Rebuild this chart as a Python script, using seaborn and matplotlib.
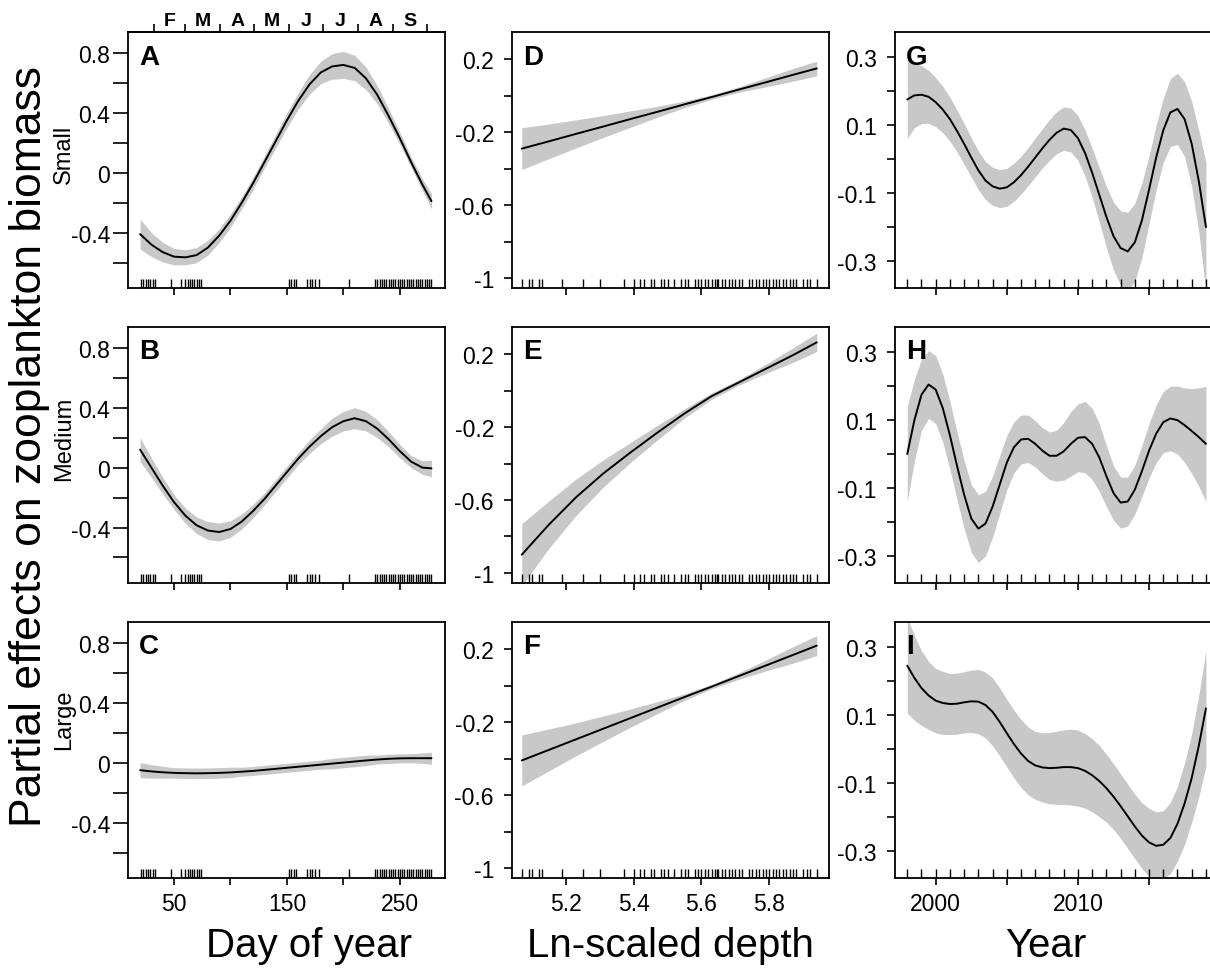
import numpy as np
import seaborn as sns
import matplotlib.pyplot as plt

sns.set_style('ticks')
plt.rcParams['font.family'] = ['Liberation Sans', 'DejaVu Sans']
plt.rcParams['axes.unicode_minus'] = False
plt.rcParams.update({'text.color': 'black', 'axes.edgecolor': 'black', 'xtick.color': 'black',
                     'ytick.color': 'black', 'axes.labelcolor': 'black'})

# ---- day of year (column 1) ----
doy = [20, 30, 40, 50, 60, 70, 80, 90, 100, 110, 120, 130, 140, 150, 160, 170, 180,
       190, 200, 210, 220, 230, 240, 250, 260, 270, 278]
fit_A = [-0.41, -0.48, -0.53, -0.56, -0.565, -0.55, -0.50, -0.42, -0.32, -0.20, -0.07, 0.07, 0.21,
         0.35, 0.48, 0.59, 0.67, 0.71, 0.72, 0.70, 0.63, 0.52, 0.38, 0.23, 0.07, -0.08, -0.19]
se_A = [0.10, 0.08, 0.065, 0.055, 0.05, 0.05, 0.05, 0.045, 0.045, 0.04, 0.04, 0.04, 0.045, 0.05,
        0.055, 0.065, 0.075, 0.085, 0.09, 0.085, 0.075, 0.06, 0.05, 0.04, 0.035, 0.04, 0.05]
fit_B = [0.12, 0.0, -0.12, -0.23, -0.32, -0.385, -0.42, -0.43, -0.41, -0.36, -0.29, -0.21, -0.12,
         -0.03, 0.06, 0.14, 0.21, 0.27, 0.31, 0.33, 0.31, 0.26, 0.19, 0.11, 0.04, 0.0, -0.005]
se_B = [0.08, 0.065, 0.055, 0.05, 0.05, 0.055, 0.06, 0.06, 0.055, 0.05, 0.045, 0.04, 0.04, 0.04,
        0.04, 0.045, 0.05, 0.06, 0.065, 0.07, 0.065, 0.06, 0.05, 0.045, 0.04, 0.045, 0.055]
fit_C = [-0.05, -0.058, -0.064, -0.068, -0.07, -0.071, -0.07, -0.068, -0.065, -0.06, -0.055, -0.048,
         -0.041, -0.034, -0.027, -0.02, -0.013, -0.006, 0.001, 0.008, 0.015, 0.021, 0.026, 0.029,
         0.03, 0.03, 0.03]
se_C = [0.05, 0.045, 0.04, 0.035, 0.035, 0.035, 0.035, 0.035, 0.035, 0.03, 0.03, 0.03, 0.03, 0.03,
        0.03, 0.03, 0.03, 0.035, 0.035, 0.035, 0.035, 0.03, 0.03, 0.03, 0.03, 0.035, 0.04]
rug_doy = [21, 23, 25, 27, 29, 31, 33, 47, 56, 60, 62, 64, 66, 68, 70, 72, 74,
           152, 154, 156, 158, 168, 170, 172, 175, 178, 205,
           228, 230, 232, 234, 236, 238, 240, 242, 244, 246, 248, 250, 252, 254, 256,
           258, 260, 262, 264, 266, 268, 270, 272, 274, 276, 278]

# ---- ln-scaled depth (column 2) ----
depth = [5.07, 5.15, 5.23, 5.31, 5.39, 5.47, 5.55, 5.63, 5.71, 5.79, 5.87, 5.94]
fit_D = [-0.29, -0.25, -0.209, -0.169, -0.128, -0.088, -0.047, -0.007, 0.034, 0.074, 0.115, 0.15]
se_D = [0.115, 0.095, 0.077, 0.06, 0.045, 0.03, 0.018, 0.012, 0.015, 0.025, 0.035, 0.04]
fit_E = [-0.90, -0.735, -0.585, -0.455, -0.34, -0.23, -0.125, -0.03, 0.045, 0.12, 0.195, 0.265]
se_E = [0.17, 0.13, 0.10, 0.075, 0.055, 0.04, 0.025, 0.017, 0.015, 0.025, 0.04, 0.05]
fit_F = [-0.41, -0.352, -0.294, -0.236, -0.178, -0.12, -0.062, -0.005, 0.053, 0.111, 0.169, 0.22]
se_F = [0.14, 0.115, 0.09, 0.07, 0.05, 0.033, 0.018, 0.012, 0.018, 0.03, 0.045, 0.055]
rug_depth = [5.07, 5.09, 5.10, 5.12, 5.13, 5.19, 5.25, 5.30, 5.37, 5.40, 5.42, 5.43, 5.45, 5.46,
             5.48, 5.49, 5.50, 5.52, 5.54, 5.55, 5.56, 5.58, 5.59, 5.60, 5.61, 5.62, 5.63, 5.64,
             5.645, 5.65, 5.66, 5.67, 5.68, 5.69, 5.70, 5.71, 5.72, 5.74, 5.75, 5.76, 5.77, 5.78,
             5.79, 5.80, 5.81, 5.82, 5.83, 5.84, 5.85, 5.86, 5.87, 5.88, 5.90, 5.91, 5.92, 5.94]

# ---- year (column 3) ----
year = [1998.0, 1998.5, 1999.0, 1999.5, 2000.0, 2000.5, 2001.0, 2001.5, 2002.0, 2002.5, 2003.0,
        2003.5, 2004.0, 2004.5, 2005.0, 2005.5, 2006.0, 2006.5, 2007.0, 2007.5, 2008.0, 2008.5,
        2009.0, 2009.5, 2010.0, 2010.5, 2011.0, 2011.5, 2012.0, 2012.5, 2013.0, 2013.5, 2014.0,
        2014.5, 2015.0, 2015.5, 2016.0, 2016.5, 2017.0, 2017.5, 2018.0, 2018.5, 2019.0]
fit_G = [0.176, 0.188, 0.19, 0.184, 0.168, 0.146, 0.118, 0.083, 0.045, 0.005, -0.033, -0.063,
         -0.08, -0.087, -0.083, -0.068, -0.047, -0.022, 0.005, 0.032, 0.057, 0.078, 0.09, 0.086,
         0.062, 0.018, -0.04, -0.105, -0.17, -0.227, -0.262, -0.272, -0.245, -0.18, -0.09, 0.005,
         0.085, 0.138, 0.148, 0.118, 0.045, -0.065, -0.2]
se_G = [0.115, 0.095, 0.085, 0.078, 0.072, 0.068, 0.065, 0.062, 0.06, 0.058, 0.057, 0.056, 0.056,
        0.056, 0.056, 0.056, 0.056, 0.056, 0.057, 0.058, 0.06, 0.062, 0.064, 0.065, 0.066, 0.068,
        0.072, 0.08, 0.09, 0.1, 0.11, 0.115, 0.115, 0.11, 0.1, 0.095, 0.095, 0.1, 0.105, 0.11,
        0.125, 0.15, 0.19]
fit_H = [0.0, 0.1, 0.175, 0.205, 0.19, 0.135, 0.055, -0.035, -0.12, -0.19, -0.22, -0.205, -0.155,
         -0.09, -0.025, 0.02, 0.043, 0.045, 0.03, 0.01, -0.005, -0.005, 0.008, 0.03, 0.048, 0.05,
         0.03, -0.01, -0.065, -0.115, -0.143, -0.14, -0.105, -0.05, 0.01, 0.06, 0.094, 0.105, 0.1,
         0.085, 0.068, 0.05, 0.03]
se_H = [0.14, 0.12, 0.105, 0.1, 0.1, 0.1, 0.1, 0.1, 0.1, 0.1, 0.1, 0.095, 0.09, 0.085, 0.08, 0.075,
        0.072, 0.07, 0.068, 0.068, 0.07, 0.075, 0.085, 0.095, 0.1, 0.105, 0.105, 0.1, 0.09, 0.08,
        0.075, 0.072, 0.072, 0.075, 0.08, 0.085, 0.09, 0.095, 0.1, 0.11, 0.125, 0.145, 0.17]
fit_I = [0.246, 0.21, 0.18, 0.158, 0.143, 0.136, 0.133, 0.134, 0.138, 0.141, 0.14, 0.13, 0.11, 0.08,
         0.047, 0.015, -0.013, -0.035, -0.048, -0.054, -0.056, -0.055, -0.053, -0.053, -0.056,
         -0.064, -0.077, -0.094, -0.115, -0.14, -0.168, -0.198, -0.228, -0.255, -0.275, -0.285,
         -0.282, -0.262, -0.22, -0.16, -0.085, 0.01, 0.12]
se_I = [0.14, 0.125, 0.11, 0.1, 0.095, 0.093, 0.09, 0.09, 0.09, 0.092, 0.095, 0.097, 0.1, 0.1, 0.1,
        0.1, 0.1, 0.1, 0.1, 0.102, 0.105, 0.108, 0.11, 0.112, 0.112, 0.11, 0.108, 0.105, 0.1, 0.097,
        0.095, 0.095, 0.095, 0.097, 0.1, 0.1, 0.1, 0.105, 0.11, 0.12, 0.13, 0.15, 0.17]
rug_year = [1998, 1999, 2000, 2001, 2002, 2003, 2004, 2005, 2006, 2007, 2008, 2009, 2010, 2011,
            2012, 2013, 2014, 2015, 2016, 2017, 2018, 2019]

month_edges = [32, 60, 91, 121, 152, 182, 213, 244, 274]
month_mids = [46, 75.5, 106, 136.5, 167, 197.5, 228.5, 259]
month_letters = ['F', 'M', 'A', 'M', 'J', 'J', 'A', 'S']

size_groups = ['Small', 'Medium', 'Large']
panel_letters = [['A', 'D', 'G'], ['B', 'E', 'H'], ['C', 'F', 'I']]

columns = [
    dict(x=doy, fits=[fit_A, fit_B, fit_C], ses=[se_A, se_B, se_C], rug=rug_doy,
         xlim=(9.3, 290), ylim=(-0.77, 0.94),
         xticks=[50, 100, 150, 200, 250], xlabels=['50', '', '150', '', '250'],
         yticks=[-0.6, -0.4, -0.2, 0, 0.2, 0.4, 0.6, 0.8],
         ylabels=['', '-0.4', '', '0', '', '0.4', '', '0.8'],
         ytlen=11, ypad=2, title='Day of year', title_x=0.255),
    dict(x=depth, fits=[fit_D, fit_E, fit_F], ses=[se_D, se_E, se_F], rug=rug_depth,
         xlim=(5.041, 5.976), ylim=(-1.055, 0.35),
         xticks=[5.2, 5.4, 5.6, 5.8], xlabels=['5.2', '5.4', '5.6', '5.8'],
         yticks=[-1, -0.8, -0.6, -0.4, -0.2, 0, 0.2],
         ylabels=['-1', '', '-0.6', '', '-0.2', '', '0.2'],
         ytlen=6, ypad=7, title='Ln-scaled depth', title_x=0.554),
    dict(x=year, fits=[fit_G, fit_H, fit_I], ses=[se_G, se_H, se_I], rug=rug_year,
         xlim=(1997.14, 2019.43), ylim=(-0.38, 0.375),
         xticks=[2000, 2005, 2010, 2015], xlabels=['2000', '', '2010', ''],
         yticks=[-0.3, -0.2, -0.1, 0, 0.1, 0.2, 0.3],
         ylabels=['-0.3', '', '-0.1', '', '0.1', '', '0.3'],
         ytlen=6, ypad=7, title='Year', title_x=0.864),
]

fig = plt.figure(figsize=(12.1, 9.7), dpi=100)
lefts = [0.1058, 0.4231, 0.7397]
bottoms = [0.702, 0.398, 0.0938]
width, height = 0.262, 0.264

for c, col in enumerate(columns):
    for r in range(3):
        ax = fig.add_axes([lefts[c], bottoms[r], width, height])
        x = np.array(col['x'])
        fit = np.array(col['fits'][r])
        se = np.array(col['ses'][r])
        ax.fill_between(x, fit - se, fit + se, color='#c8c8c8', lw=0)
        sns.lineplot(x=x, y=fit, ax=ax, color='black', lw=1.4)
        sns.rugplot(x=col['rug'], ax=ax, height=0.035, color='black', lw=0.8)
        ax.set_xlim(col['xlim'])
        ax.set_ylim(col['ylim'])
        ax.set_xticks(col['xticks'])
        ax.set_xticklabels(col['xlabels'] if r == 2 else [''] * len(col['xticks']))
        ax.set_yticks(col['yticks'])
        ax.set_yticklabels(col['ylabels'])
        ax.tick_params(axis='y', direction='out', length=col['ytlen'], pad=col['ypad'],
                       width=1.2, labelsize=16.5)
        ax.tick_params(axis='x', direction='out', length=5, pad=5, width=1.2, labelsize=16.5)
        ax.set_xlabel('')
        ax.set_ylabel('')
        for sp in ax.spines.values():
            sp.set_linewidth(1.3)
            sp.set_visible(True)
        ax.text(0.035, 0.955, panel_letters[r][c], transform=ax.transAxes,
                fontsize=20, fontweight='bold', va='top', ha='left')

        if c == 0 and r == 0:
            top = ax.secondary_xaxis('top')
            top.set_xticks(month_edges)
            top.set_xticklabels([''] * len(month_edges))
            top.set_xticks(month_mids, minor=True)
            top.set_xticklabels(month_letters, minor=True, fontweight='bold', fontsize=14)
            top.tick_params(which='major', length=6, width=1.2, direction='out')
            top.tick_params(which='minor', length=0, pad=2)
            top.spines['top'].set_linewidth(1.3)

    fig.text(col['title_x'], 0.013, col['title'], fontsize=29, ha='center', va='baseline')

fig.text(0.024, 0.54, 'Partial effects on zooplankton biomass', rotation=90,
         fontsize=32, ha='center', va='center')
for label, yc in zip(size_groups, [0.841, 0.548, 0.258]):
    fig.text(0.053, yc, label, rotation=90, fontsize=17, ha='center', va='center')

fig.savefig('out.png', dpi=100)
